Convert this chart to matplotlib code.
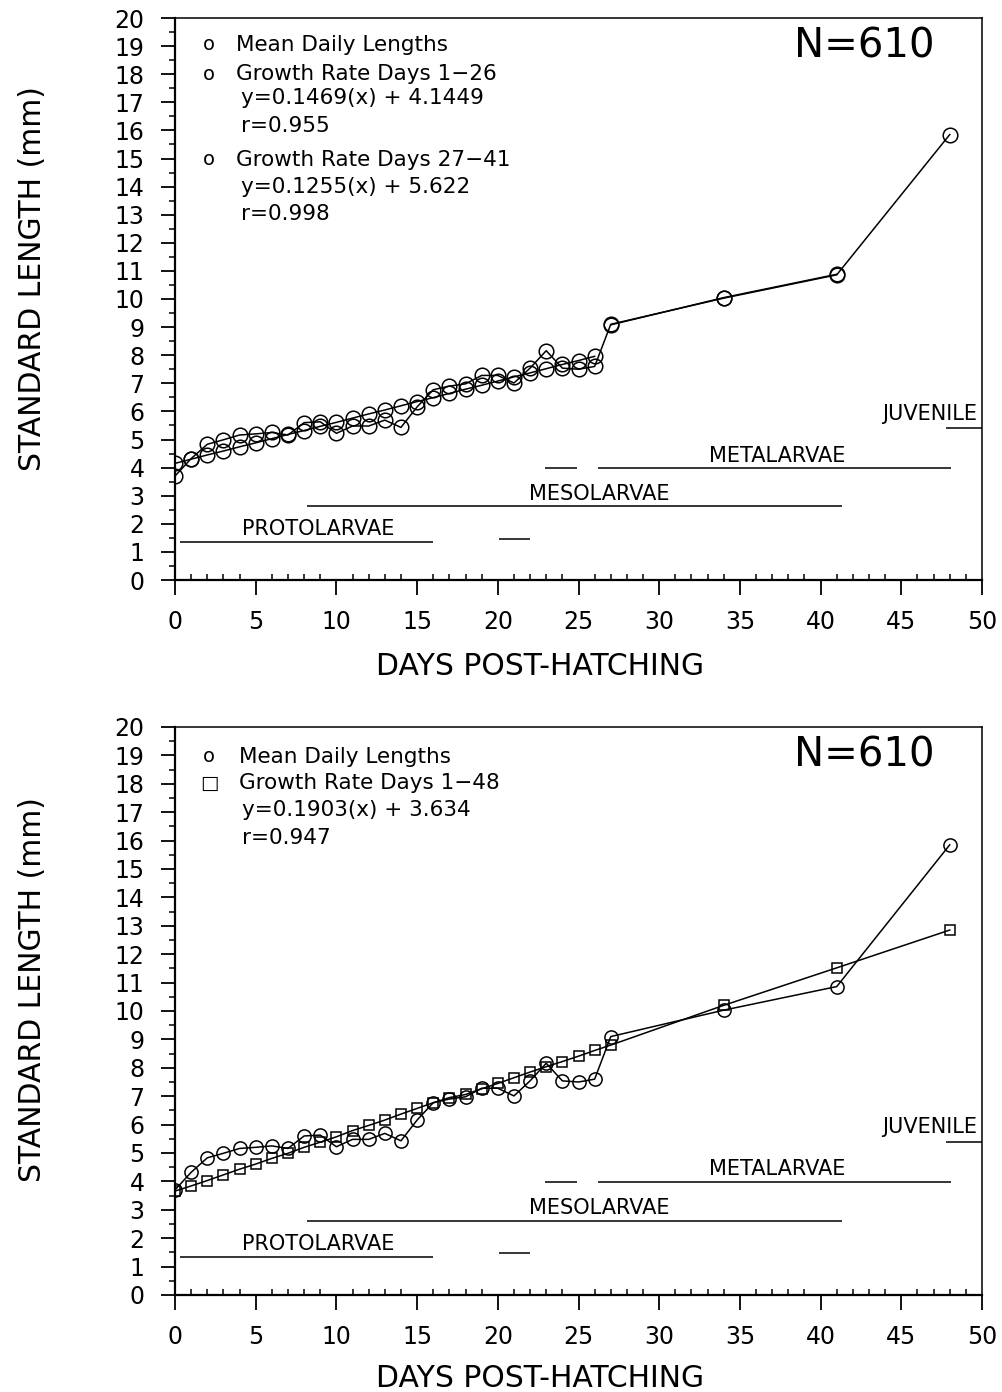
import matplotlib.pyplot as plt
from matplotlib.ticker import MultipleLocator

# days sampled
days = [0, 1, 2, 3, 4, 5, 6, 7, 8, 9, 10, 11, 12, 13, 14, 15, 16, 17, 18, 19,
        20, 21, 22, 23, 24, 25, 26, 27, 34, 41, 48]

# mean daily standard length (mm)
mean_len = [3.70, 4.32, 4.83, 4.99, 5.16, 5.20, 5.25, 5.16, 5.60, 5.63, 5.22,
            5.48, 5.48, 5.69, 5.43, 6.16, 6.77, 6.90, 6.98, 7.28, 7.28, 7.01,
            7.54, 8.16, 7.54, 7.50, 7.60, 9.10, 10.03, 10.86, 15.85]

# growth rate days 1-26 (top panel)
fit1_days = days[:27]
fit1_len = [4.15, 4.30, 4.45, 4.59, 4.74, 4.88, 5.03, 5.18, 5.32, 5.47, 5.61,
            5.76, 5.91, 6.05, 6.20, 6.35, 6.49, 6.64, 6.79, 6.93, 7.08, 7.23,
            7.37, 7.52, 7.67, 7.81, 7.96]

# growth rate days 27-41 (top panel)
fit2_days = [27, 34, 41]
fit2_len = [9.08, 10.05, 10.88]

# growth rate days 1-48 (bottom panel)
fit3_len = [3.66, 3.84, 4.03, 4.23, 4.43, 4.61, 4.81, 4.99, 5.20, 5.38, 5.57,
            5.79, 5.97, 6.16, 6.37, 6.57, 6.77, 6.95, 7.06, 7.26, 7.45, 7.65,
            7.85, 8.04, 8.22, 8.41, 8.61, 8.80, 10.20, 11.52, 12.85]

# developmental phase bars (start day, end day, length)
seg_start = [0.3, 20.1, 8.2, 22.9, 26.2, 47.8]
seg_end = [16.0, 22.0, 41.3, 24.9, 48.1, 50.0]
seg_y = [1.35, 1.47, 2.62, 3.98, 3.98, 5.40]

phase_names = ['PROTOLARVAE', 'MESOLARVAE', 'METALARVAE', 'JUVENILE']

plt.rcParams['font.family'] = 'DejaVu Sans'

fig = plt.figure(figsize=(10.02, 13.92), dpi=100)
ax1 = fig.add_axes([175 / 1002, 1 - 580 / 1392, 807 / 1002, 562 / 1392])
ax2 = fig.add_axes([175 / 1002, 1 - 1295 / 1392, 807 / 1002, 568 / 1392])


def style_axes(ax, label_y):
    ax.set_xlim(0, 50)
    ax.set_ylim(0, 20)
    ax.xaxis.set_major_locator(MultipleLocator(5))
    ax.xaxis.set_minor_locator(MultipleLocator(1))
    ax.yaxis.set_major_locator(MultipleLocator(1))
    ax.yaxis.set_minor_locator(MultipleLocator(0.5))
    ax.tick_params(axis='y', which='major', direction='out', length=10,
                   width=1.3, labelsize=17, pad=12)
    ax.tick_params(axis='y', which='minor', direction='out', length=4.5, width=1.1)
    ax.tick_params(axis='x', which='major', direction='out', length=10.5,
                   width=1.3, labelsize=17, pad=11)
    ax.tick_params(axis='x', which='minor', direction='in', length=4.5, width=1.1)
    for side in ['left', 'bottom']:
        ax.spines[side].set_linewidth(1.6)
    for side in ['top', 'right']:
        ax.spines[side].set_linewidth(1.1)
    ax.set_ylabel('STANDARD LENGTH (mm)', fontsize=21.5)
    ax.yaxis.set_label_coords(-0.158, 0.537)
    ax.set_xlabel('DAYS POST-HATCHING', fontsize=21.5)
    ax.xaxis.set_label_coords(0.452, label_y)

    # phase bars and names
    for s, e, y in zip(seg_start, seg_end, seg_y):
        ax.plot([s, e], [y, y], color='black', lw=1.1, solid_capstyle='butt')
    ax.text(8.9, 1.80, phase_names[0], fontsize=15, ha='center', va='center')
    ax.text(26.3, 3.07, phase_names[1], fontsize=15, ha='center', va='center')
    ax.text(37.3, 4.42, phase_names[2], fontsize=15, ha='center', va='center')
    ax.text(49.7, 5.90, phase_names[3], fontsize=15, ha='right', va='center')

    ax.text(42.7, 19.0, 'N=610', fontsize=29, ha='center', va='center')


mk = dict(color='black', lw=1.1, markerfacecolor='none', markeredgewidth=1.1)

# top panel
style_axes(ax1, -0.128)
ax1.plot(days, mean_len, marker='o', markersize=10.5, **mk)
ax1.plot(fit1_days, fit1_len, marker='o', markersize=10.5, **mk)
ax1.plot(fit2_days, fit2_len, marker='o', markersize=10.5, **mk)

leg_top = [(19.05, 'o', 'Mean Daily Lengths'),
           (18.0, 'o', 'Growth Rate Days 1\u221226'),
           (17.15, '', 'y=0.1469(x) + 4.1449'),
           (16.15, '', 'r=0.955'),
           (14.95, 'o', 'Growth Rate Days 27\u221241'),
           (13.98, '', 'y=0.1255(x) + 5.622'),
           (13.02, '', 'r=0.998')]
for y, sym, txt in leg_top:
    if sym:
        ax1.text(2.1, y, sym, fontsize=14, ha='center', va='center')
        ax1.text(3.75, y, txt, fontsize=15.5, ha='left', va='center')
    else:
        ax1.text(4.1, y, txt, fontsize=15.5, ha='left', va='center')

# bottom panel
style_axes(ax2, -0.121)
ax2.plot(days, mean_len, marker='o', markersize=9.5, **mk)
ax2.plot(days, fit3_len, marker='s', markersize=7, **mk)

leg_bot = [(18.95, 'o', 'Mean Daily Lengths'),
           (18.03, '\u25a1', 'Growth Rate Days 1\u221248'),
           (17.08, '', 'y=0.1903(x) + 3.634'),
           (16.10, '', 'r=0.947')]
for y, sym, txt in leg_bot:
    if sym:
        ax2.text(2.1, y, sym, fontsize=14, ha='center', va='center')
        ax2.text(3.95, y, txt, fontsize=15.5, ha='left', va='center')
    else:
        ax2.text(4.15, y, txt, fontsize=15.5, ha='left', va='center')

plt.savefig('out.png', dpi=100)
